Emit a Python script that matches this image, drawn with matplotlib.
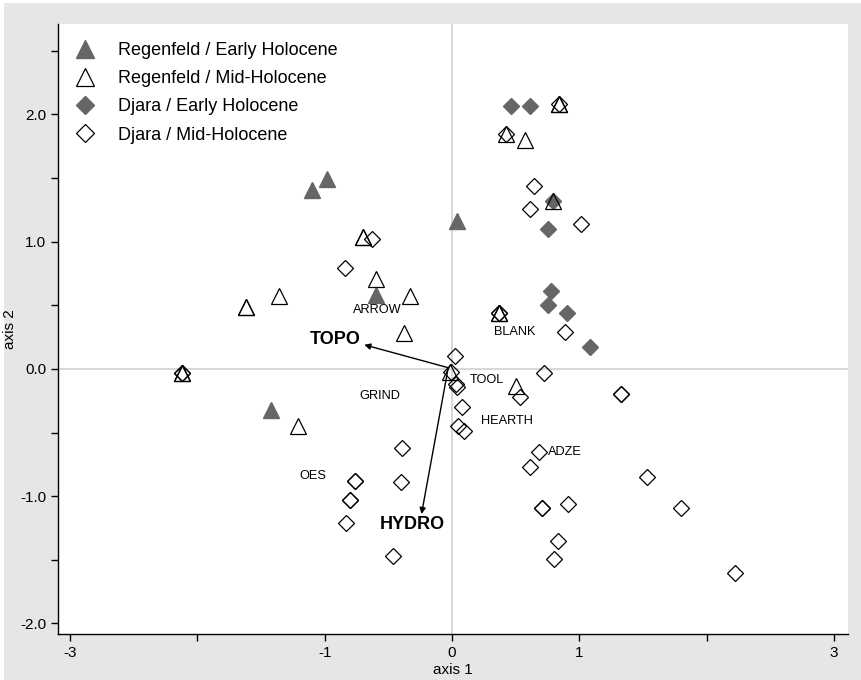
import matplotlib
matplotlib.use('Agg')
import matplotlib.pyplot as plt
from matplotlib.lines import Line2D
from matplotlib.patches import Rectangle

plt.rcParams['font.family'] = ['Liberation Sans', 'DejaVu Sans']
plt.rcParams['axes.unicode_minus'] = False

# Regenfeld / Early Holocene (filled triangles)
reg_early_x = [-1.10, -0.98, -0.60, 0.04, -1.42]
reg_early_y = [1.41, 1.49, 0.58, 1.16, -0.32]

# Regenfeld / Mid-Holocene (open triangles), repeated values = tied scores
reg_mid_x = [-1.62, -1.62, -1.36, -0.70, -0.70, -0.60, -0.33, -0.38, -2.12, -2.12,
             -1.21, 0.42, 0.57, 0.84, 0.84, 0.79, 0.37, 0.37, -0.02, 0.50]
reg_mid_y = [0.49, 0.49, 0.57, 1.04, 1.04, 0.71, 0.57, 0.28, -0.03, -0.03,
             -0.45, 1.85, 1.80, 2.08, 2.08, 1.32, 0.44, 0.44, -0.02, -0.13]

# Djara / Early Holocene (filled diamonds)
dja_early_x = [0.46, 0.61, 0.75, 0.78, 0.75, 0.90, 1.08, 0.79]
dja_early_y = [2.07, 2.07, 1.10, 0.61, 0.50, 0.44, 0.17, 1.32]

# Djara / Mid-Holocene (open diamonds)
dja_mid_x = [-2.12, -2.12, -0.84, -0.63, 0.42, 0.84, 0.64, 0.61, 1.01, 0.37, 0.37,
             0.89, 0.02, -0.01, 0.03, 0.04, 0.08, 0.05, 0.09, 0.72, 0.53,
             1.33, 1.33, 0.68, 0.61, 1.53, 0.71, 0.71, 0.91, 1.80, 0.83, 0.80,
             2.22, -0.39, -0.76, -0.76, -0.80, -0.80, -0.83, -0.40, -0.46]
dja_mid_y = [-0.03, -0.03, 0.79, 1.02, 1.85, 2.08, 1.44, 1.26, 1.14, 0.44, 0.44,
             0.29, 0.10, -0.02, -0.12, -0.14, -0.30, -0.45, -0.49, -0.03, -0.22,
             -0.20, -0.20, -0.65, -0.77, -0.85, -1.09, -1.09, -1.06, -1.09, -1.35, -1.49,
             -1.60, -0.62, -0.88, -0.88, -1.03, -1.03, -1.21, -0.89, -1.47]

# variable labels and environmental vectors
var_names = ['ARROW', 'BLANK', 'TOOL', 'GRIND', 'HEARTH', 'ADZE', 'OES']
var_x = [-0.59, 0.49, 0.27, -0.57, 0.43, 0.89, -1.09]
var_y = [0.465, 0.29, -0.087, -0.21, -0.41, -0.65, -0.84]

env_names = ['TOPO', 'HYDRO']
env_tip_x = [-0.69, -0.24]
env_tip_y = [0.19, -1.14]
env_lab_x = [-0.92, -0.31]
env_lab_y = [0.23, -1.22]
env_origin = (-0.03, 0.01)

grey = '#666666'

fig = plt.figure(figsize=(8.61, 6.80), dpi=100, facecolor='white')
fig.patches.append(Rectangle((4 / 861, 0), 1, 1 - 3 / 680, transform=fig.transFigure,
                             facecolor='#e6e6e6', edgecolor='none', zorder=-10))
ax = fig.add_axes([0.0674, 0.0676, 0.9175, 0.8971])
ax.set_facecolor('white')

ax.axhline(0, color='#d4d4d4', lw=1.3, zorder=0)
ax.axvline(0, color='#d4d4d4', lw=1.3, zorder=0)

ms_tri = 11.5
ms_dia = 8.4
ax.plot(reg_early_x, reg_early_y, '^', ms=ms_tri, mfc=grey, mec=grey, ls='none',
        label='Regenfeld / Early Holocene', zorder=3)
ax.plot(dja_early_x, dja_early_y, 'D', ms=ms_dia, mfc=grey, mec=grey, ls='none',
        label='Djara / Early Holocene', zorder=3)
ax.plot(reg_mid_x, reg_mid_y, '^', ms=ms_tri, mfc='none', mec='black', mew=0.9, ls='none',
        label='Regenfeld / Mid-Holocene', zorder=4)
ax.plot(dja_mid_x, dja_mid_y, 'D', ms=ms_dia, mfc='none', mec='black', mew=0.9, ls='none',
        label='Djara / Mid-Holocene', zorder=4)

for name, x, y in zip(var_names, var_x, var_y):
    ax.text(x, y, name, fontsize=9.2, ha='center', va='center', zorder=5)

for name, tx, ty, lx, ly in zip(env_names, env_tip_x, env_tip_y, env_lab_x, env_lab_y):
    ax.annotate('', xy=(tx, ty), xytext=env_origin,
                arrowprops=dict(arrowstyle='-|>', color='black', lw=1.0,
                                mutation_scale=9, shrinkA=0, shrinkB=0), zorder=5)
    ax.text(lx, ly, name, fontsize=13, fontweight='bold', ha='center', va='center', zorder=5)

ax.set_xlim(-3.095, 3.11)
ax.set_ylim(-2.083, 2.711)

ax.set_xticks([-3, -1, 0, 1, 3])
ax.set_xticklabels(['-3', '-1', '0', '1', '3'])
ax.set_xticks([-2, 2], minor=True)
ax.set_yticks([-2, -1, 0, 1, 2])
ax.set_yticklabels(['-2.0', '-1.0', '0.0', '1.0', '2.0'])
ax.set_yticks([-1.5, -0.5, 0.5, 1.5, 2.5], minor=True)
ax.tick_params(which='both', direction='out', length=5, width=1, labelsize=11)

for s in ['top', 'right']:
    ax.spines[s].set_visible(False)
for s in ['left', 'bottom']:
    ax.spines[s].set_linewidth(1.0)

ax.set_xlabel('axis 1', fontsize=11, labelpad=2)
ax.set_ylabel('axis 2', fontsize=11, labelpad=2)

h = [Line2D([], [], marker='^', ms=12.5, mfc=grey, mec=grey, ls='none'),
     Line2D([], [], marker='^', ms=12.5, mfc='none', mec='black', mew=0.9, ls='none'),
     Line2D([], [], marker='D', ms=9, mfc=grey, mec=grey, ls='none'),
     Line2D([], [], marker='D', ms=9, mfc='none', mec='black', mew=0.9, ls='none')]
labels = ['Regenfeld / Early Holocene', 'Regenfeld / Mid-Holocene',
          'Djara / Early Holocene', 'Djara / Mid-Holocene']
ax.legend(h, labels, loc='upper left', bbox_to_anchor=(0.0, 1.0), frameon=False,
          fontsize=13, handlelength=1.0, handletextpad=1.3, labelspacing=0.62,
          borderaxespad=0.6)

fig.savefig('out.png', dpi=100, facecolor=fig.get_facecolor())
